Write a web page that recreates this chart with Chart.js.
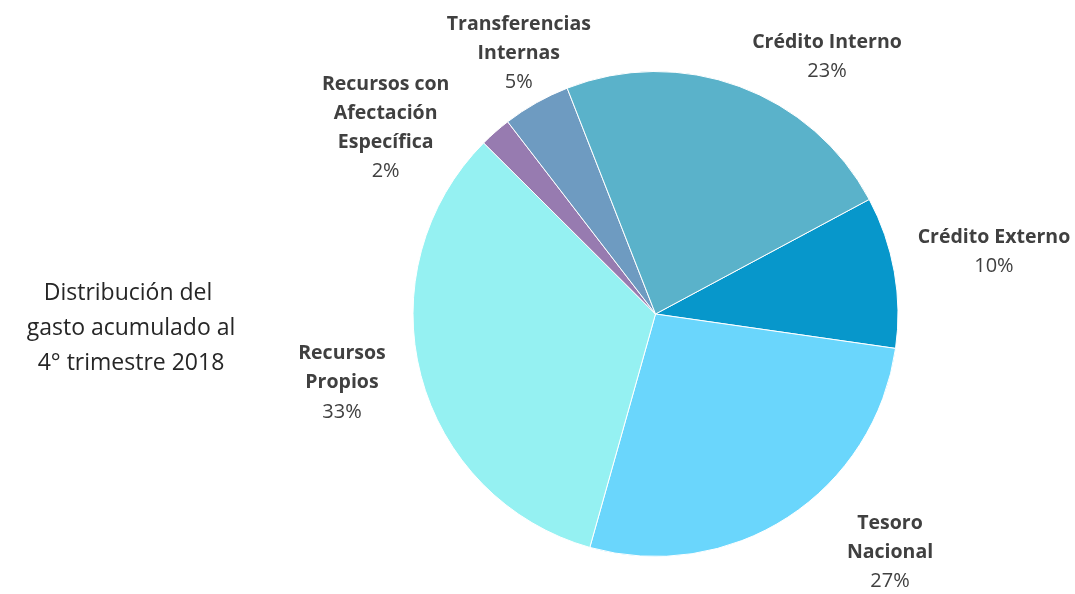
<!DOCTYPE html>
<html>
<head>
<meta charset="utf-8">
<script src="https://cdn.jsdelivr.net/npm/chart.js@4/dist/chart.umd.min.js"></script>
<style>
  html, body { margin: 0; padding: 0; background: #ffffff; }
  #wrap { width: 1075px; height: 594px; position: relative; }
</style>
</head>
<body>
<div id="wrap"><canvas id="c" width="1075" height="594"></canvas></div>
<script>
// ---- data ----
const categories = [
  ["Crédito Externo"],
  ["Tesoro", "Nacional"],
  ["Recursos", "Propios"],
  ["Recursos con", "Afectación", "Específica"],
  ["Transferencias", "Internas"],
  ["Crédito Interno"]
];
const shares = [10.1, 27.1, 33.1, 2.1, 4.5, 23.1];
const titleLines = ["Distribución del ", "gasto acumulado al", "4° trimestre 2018"];

// ---- styles / layout ----
const sliceColors = ["#0797CB", "#6AD6FC", "#95F1F2", "#977BB0", "#6E9BC1", "#5AB2CA"];
// label block centre: angle (deg, clockwise from 3 o'clock) and distance as multiple of radius
const labelLayout = [
  { a: -10.4, k: 1.416 },
  { a: 45.5,  k: 1.377 },
  { a: 167.6, k: 1.321 },
  { a: 214.6, k: 1.349 },
  { a: 242.3, k: 1.21 },
  { a: -56.3, k: 1.272 }
];

const labelPlugin = {
  id: 'outerLabels',
  afterDraw(chart) {
    const ctx = chart.ctx;
    const meta = chart.getDatasetMeta(0);
    const total = shares.reduce((s, v) => s + v, 0);
    const lh = 29;
    ctx.save();
    ctx.textAlign = 'center';
    ctx.textBaseline = 'middle';
    meta.data.forEach((arc, i) => {
      const r = arc.outerRadius + 0.5;
      const L = labelLayout[i];
      const ang = L.a * Math.PI / 180;
      const cx = arc.x + Math.cos(ang) * r * L.k;
      const cy = arc.y + Math.sin(ang) * r * L.k;
      const lines = categories[i].slice();
      const n = lines.length + 1;
      const y0 = cy - (n - 1) * lh / 2;
      ctx.fillStyle = '#404040';
      ctx.font = 'bold 19.5px "Open Sans"';
      lines.forEach((t, j) => ctx.fillText(t, cx, y0 + j * lh));
      ctx.font = '20px "Open Sans"';
      ctx.fillText(Math.round(shares[i] / total * 100) + '%', cx, y0 + lines.length * lh);
    });
    // title text on the left
    ctx.fillStyle = '#262626';
    ctx.font = '23px "Open Sans"';
    titleLines.forEach((t, j) => ctx.fillText(t, 131, 293 + j * 35));
    ctx.restore();
  }
};

new Chart(document.getElementById('c'), {
  type: 'pie',
  data: {
    labels: categories.map(c => c.join(' ')),
    datasets: [{
      data: shares,
      backgroundColor: sliceColors,
      borderColor: '#ffffff',
      borderWidth: 1
    }]
  },
  options: {
    responsive: false,
    animation: false,
    rotation: 61.8,
    layout: { padding: { left: 412, right: 176, top: 71, bottom: 37 } },
    plugins: {
      legend: { display: false },
      tooltip: { enabled: false },
      title: { display: false }
    }
  },
  plugins: [labelPlugin]
});
</script>
</body>
</html>
